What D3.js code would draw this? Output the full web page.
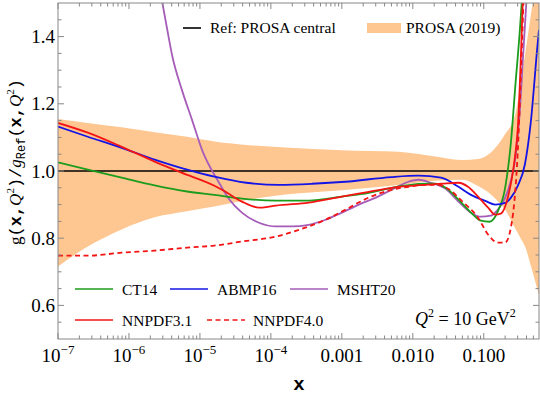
<!DOCTYPE html>
<html>
<head>
<meta charset="utf-8">
<script src="https://cdn.jsdelivr.net/npm/d3@7"></script>
<style>
  body { margin: 0; background: #fff; }
  svg { display: block; }
</style>
</head>
<body>
<div id="chart"></div>
<script>
// values, x is momentum fraction, y is the ratio to PROSA central
var ct14 = [[1e-7,1.026],[2.63e-7,1.004],[7.9e-7,0.98],[2.3e-6,0.957],[6.6e-6,0.939],[1.6e-5,0.929],
  [3.9e-5,0.918],[1.17e-4,0.912],[3.4e-4,0.912],[1e-3,0.924],[2.4e-3,0.935],[5e-3,0.95],[8.7e-3,0.958],
  [0.015,0.962],[0.021,0.962],[0.029,0.95],[0.044,0.915],[0.066,0.876],[0.091,0.852],[0.12,0.849],
  [0.158,0.88],[0.2,0.95],[0.24,1.08],[0.28,1.26],[0.32,1.41],[0.345,1.51]];
var abmp16 = [[1e-7,1.132],[2.63e-7,1.102],[7.9e-7,1.069],[2.3e-6,1.034],[6.6e-6,1.004],[1.6e-5,0.983],
  [4.5e-5,0.965],[1.3e-4,0.959],[3.8e-4,0.962],[1.12e-3,0.968],[5e-3,0.982],[0.012,0.986],[0.025,0.98],
  [0.044,0.953],[0.066,0.929],[0.105,0.911],[0.145,0.9],[0.2,0.905],[0.24,0.92],[0.3,0.955],
  [0.38,1.02],[0.457,1.14],[0.575,1.38],[0.6,1.42]];
var msht20 = [[2.9e-6,1.51],[3.4e-6,1.43],[4.1e-6,1.34],[5.6e-6,1.24],[7.8e-6,1.15],[1.07e-5,1.063],
  [1.86e-5,0.965],[2.6e-5,0.915],[3.9e-5,0.876],[6.8e-5,0.846],[1.17e-4,0.835],[2.0e-4,0.835],
  [3.4e-4,0.84],[5.9e-4,0.855],[1e-3,0.876],[1.74e-3,0.9],[2.95e-3,0.92],[5e-3,0.944],[8.7e-3,0.968],
  [0.012,0.974],[0.018,0.965],[0.029,0.947],[0.044,0.909],[0.066,0.876],[0.091,0.864],[0.126,0.867],
  [0.158,0.885],[0.2,0.92],[0.24,0.97],[0.275,1.03],[0.32,1.17],[0.36,1.35],[0.4,1.51]];
var nnpdf31 = [[1e-7,1.143],[2.63e-7,1.114],[7.9e-7,1.072],[2.3e-6,1.028],[5.5e-6,0.995],[1.6e-5,0.956],
  [2.3e-5,0.938],[3.9e-5,0.909],[6.8e-5,0.891],[7.6e-5,0.891],[1.17e-4,0.897],[3.4e-4,0.906],
  [1e-3,0.924],[2.4e-3,0.938],[5e-3,0.95],[0.015,0.959],[0.025,0.962],[0.044,0.965],[0.06,0.953],
  [0.083,0.924],[0.115,0.891],[0.145,0.87],[0.174,0.873],[0.22,0.924],[0.275,1.042],[0.3,1.12],[0.355,1.51]];
var nnpdf40 = [[1e-7,0.748],[2.63e-7,0.748],[7.9e-7,0.757],[2.3e-6,0.763],[6.6e-6,0.772],[1.6e-5,0.778],
  [3.9e-5,0.79],[1.17e-4,0.805],[3.4e-4,0.835],[5.9e-4,0.855],[1e-3,0.879],[2.4e-3,0.921],[5e-3,0.944],
  [8.7e-3,0.953],[0.015,0.959],[0.023,0.959],[0.033,0.944],[0.05,0.909],[0.083,0.861],[0.115,0.811],
  [0.158,0.787],[0.2,0.787],[0.24,0.83],[0.28,0.95],[0.3,1.05],[0.33,1.26],[0.363,1.51]];

// PROSA (2019) uncertainty band, both edges read at the same x
var prosaX = [1e-7, 2.63e-7, 7.9e-7, 2.3e-6, 6.6e-6, 1.6e-5, 5e-5, 1.6e-4, 1e-3, 6.3e-3, 0.023, 0.05,
  0.083, 0.126, 0.174, 0.2, 0.275, 0.33, 0.39, 0.457, 0.6];
var prosaUpper = [1.155, 1.143, 1.13, 1.115, 1.102, 1.088, 1.077, 1.07, 1.062, 1.057, 1.042, 1.033,
  1.036, 1.055, 1.09, 1.11, 1.165, 1.26, 1.36, 1.46, 1.62];
var prosaLower = [0.716, 0.775, 0.826, 0.862, 0.88, 0.894, 0.915, 0.93, 0.943, 0.958, 0.972, 0.974,
  0.955, 0.93, 0.9, 0.885, 0.83, 0.8, 0.77, 0.72, 0.63];

var xTicks = [1e-7, 1e-6, 1e-5, 1e-4, 1e-3, 1e-2, 1e-1];
var xTickLabels = [["10","\u22127"],["10","\u22126"],["10","\u22125"],["10","\u22124"],["0.001"],["0.010"],["0.100"]];
var yTicks = [0.6, 0.8, 1.0, 1.2, 1.4];

var serif = "'Liberation Serif', 'Times New Roman', Times, serif";
var mono = "'Liberation Mono', 'DejaVu Sans Mono', monospace";

var width = 540, height = 398;
var margin = {top: 3, right: 1, bottom: 59, left: 58};
var w = width - margin.left - margin.right;
var h = height - margin.top - margin.bottom;

var svg = d3.select("#chart").append("svg").attr("width", width).attr("height", height)
  .style("font-family", serif);
var g = svg.append("g").attr("transform", "translate(" + margin.left + "," + margin.top + ")");

var x = d3.scaleLog().domain([1e-7, 0.6]).range([0, w]);
var y = d3.scaleLinear().domain([0.5, 1.5]).range([h, 0]);

g.append("clipPath").attr("id", "clip").append("rect").attr("width", w).attr("height", h);
var plot = g.append("g").attr("clip-path", "url(#clip)");

var band = d3.area()
  .x(function(d, i) { return x(prosaX[i]); })
  .y0(function(d, i) { return y(prosaLower[i]); })
  .y1(function(d, i) { return y(prosaUpper[i]); })
  .curve(d3.curveMonotoneX);
plot.append("path").attr("d", band(prosaX)).attr("fill", "#fec791");

plot.append("line").attr("x1", 0).attr("x2", w).attr("y1", y(1)).attr("y2", y(1))
  .attr("stroke", "#000").attr("stroke-width", 1.6);

var line = d3.line()
  .x(function(d) { return x(d[0]); })
  .y(function(d) { return y(d[1]); })
  .curve(d3.curveMonotoneX);

var series = [
  {data: msht20, color: "#a65cb9", dash: null},
  {data: ct14, color: "#1c9c1c", dash: null},
  {data: abmp16, color: "#1414e6", dash: null},
  {data: nnpdf40, color: "#f51414", dash: "5,3.5"},
  {data: nnpdf31, color: "#f51414", dash: null}
];
series.forEach(function(s) {
  plot.append("path").attr("d", line(s.data)).attr("fill", "none")
    .attr("stroke", s.color).attr("stroke-width", 1.8)
    .attr("stroke-dasharray", s.dash);
});

// frame and ticks
var frameColor = "#888";
g.append("rect").attr("width", w).attr("height", h).attr("fill", "none")
  .attr("stroke", frameColor).attr("stroke-width", 1);

var minorX = [];
for (var e = -7; e <= -1; e++) {
  for (var m = 2; m <= 9; m++) {
    var v = m * Math.pow(10, e);
    if (v <= 0.6) minorX.push(v);
  }
}
var ticks = g.append("g").attr("stroke", frameColor).attr("stroke-width", 1);
xTicks.forEach(function(t) {
  ticks.append("line").attr("x1", x(t)).attr("x2", x(t)).attr("y1", h).attr("y2", h - 6);
  ticks.append("line").attr("x1", x(t)).attr("x2", x(t)).attr("y1", 0).attr("y2", 6);
});
minorX.forEach(function(t) {
  ticks.append("line").attr("x1", x(t)).attr("x2", x(t)).attr("y1", h).attr("y2", h - 3.5);
  ticks.append("line").attr("x1", x(t)).attr("x2", x(t)).attr("y1", 0).attr("y2", 3.5);
});
d3.range(0.55, 1.5, 0.05).forEach(function(t) {
  var major = yTicks.some(function(k) { return Math.abs(k - t) < 1e-6; });
  var len = major ? 6 : 3.5;
  ticks.append("line").attr("x1", 0).attr("x2", len).attr("y1", y(t)).attr("y2", y(t));
  ticks.append("line").attr("x1", w).attr("x2", w - len).attr("y1", y(t)).attr("y2", y(t));
});

// tick labels
yTicks.forEach(function(t) {
  g.append("text").attr("x", -3).attr("y", y(t) + 6.5).attr("text-anchor", "end")
    .style("font-family", serif).attr("font-size", 19).text(d3.format(".1f")(t));
});
xTicks.forEach(function(t, i) {
  var lab = xTickLabels[i];
  var txt = g.append("text").attr("x", x(t)).attr("y", h + 23).attr("text-anchor", "middle")
    .style("font-family", serif).attr("font-size", 19);
  txt.append("tspan").text(lab[0]);
  if (lab[1]) txt.append("tspan").attr("dy", -8).attr("font-size", 13).text(lab[1]);
});

// axis titles
svg.append("text").attr("x", 299).attr("y", 390).attr("text-anchor", "middle")
  .attr("font-size", 19).attr("font-weight", "bold")
  .style("font-family", mono).text("x");

var yl = svg.append("text").attr("transform", "translate(21,162) rotate(-90)")
  .attr("text-anchor", "middle").attr("font-size", 17).style("font-family", serif);
function part(t, fam, opts) {
  var s = yl.append("tspan").text(t).style("font-family", fam || serif);
  opts = opts || {};
  if (opts.bold) s.attr("font-weight", "bold");
  if (opts.italic) s.attr("font-style", "italic");
  if (opts.size) s.attr("font-size", opts.size);
  if (opts.dy) s.attr("dy", opts.dy);
  return s;
}
part("g");
part("(", mono);
part("x", mono, {bold: true});
part(",", mono, {bold: true});
part("Q", serif, {italic: true});
part("2", serif, {size: 11, dy: -7});
part(")", mono, {dy: 7});
part("/", mono);
part("g", serif, {italic: true});
part("Ref", mono, {size: 12, dy: 4});
part("(", mono, {dy: -4});
part("x", mono, {bold: true});
part(",", mono, {bold: true});
part("Q", serif, {italic: true});
part("2", serif, {size: 11, dy: -7});
part(")", mono, {dy: 7});

// top legend
var leg = svg.append("g").style("font-family", serif);
leg.append("line").attr("x1", 183).attr("x2", 201).attr("y1", 28).attr("y2", 28)
  .attr("stroke", "#000").attr("stroke-width", 1.6);
leg.append("text").attr("x", 210).attr("y", 33).attr("font-size", 15.5).text("Ref: PROSA central");
leg.append("rect").attr("x", 367).attr("y", 23).attr("width", 34).attr("height", 10).attr("fill", "#fec791");
leg.append("text").attr("x", 406).attr("y", 33).attr("font-size", 15.5).text("PROSA (2019)");

// bottom legend
var legendItems = [
  {name: "CT14", color: "#1c9c1c", dash: null, x: 75, y: 289},
  {name: "ABMP16", color: "#1414e6", dash: null, x: 170, y: 289},
  {name: "MSHT20", color: "#a65cb9", dash: null, x: 290, y: 289},
  {name: "NNPDF3.1", color: "#f51414", dash: null, x: 75, y: 320},
  {name: "NNPDF4.0", color: "#f51414", dash: "5,3.5", x: 207, y: 320}
];
legendItems.forEach(function(d) {
  leg.append("line").attr("x1", d.x).attr("x2", d.x + 38).attr("y1", d.y).attr("y2", d.y)
    .attr("stroke", d.color).attr("stroke-width", 1.6).attr("stroke-dasharray", d.dash);
  leg.append("text").attr("x", d.x + (d.dash ? 46 : 47)).attr("y", d.y + 6).attr("font-size", 15.5).text(d.name);
});

var q = svg.append("text").attr("x", 415).attr("y", 325).attr("font-size", 18).style("font-family", serif);
q.append("tspan").attr("font-style", "italic").text("Q");
q.append("tspan").attr("dy", -8).attr("font-size", 12).text("2");
q.append("tspan").attr("dy", 8).text(" = 10 GeV");
q.append("tspan").attr("dy", -8).attr("font-size", 12).text("2");
</script>
</body>
</html>
